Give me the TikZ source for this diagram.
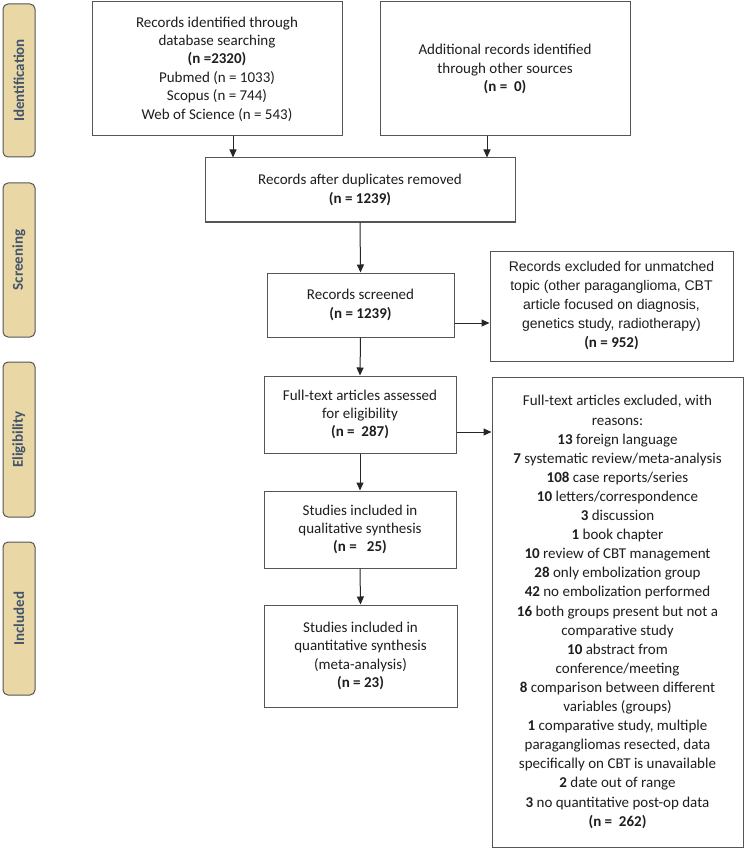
\documentclass[tikz,border=0pt]{standalone}
\usepackage{fontspec}
\setmainfont{Carlito}
\newfontfamily\arialf{Liberation Sans}
\usetikzlibrary{arrows.meta,calc}
\definecolor{tabfill}{RGB}{233,215,166}
\definecolor{tabtext}{RGB}{68,84,106}
\definecolor{boxline}{RGB}{85,85,85}
\definecolor{txt}{RGB}{30,30,30}
\begin{document}
\begin{tikzpicture}[x=1pt,y=-1pt,
  box/.style={draw=boxline,line width=1pt,rectangle,inner sep=0pt,align=center,
    font=\fontsize{15}{18.4}\selectfont,text=txt},
  tab/.style={draw=boxline,fill=tabfill,rounded corners=5pt,line width=1pt,inner sep=0pt,
    rotate=90,minimum height=32pt,text=tabtext,font=\fontsize{15}{18}\selectfont\bfseries},
  arr/.style={-{Triangle[length=8pt,width=7pt]},line width=1pt,draw=black!85}]
\useasboundingbox (0,0) rectangle (745,850);
\fill[white] (0,0) rectangle (745,850);
% phase tabs
\node[tab,minimum width=153pt] (tid) at (19,80.5) {Identification};
\node[tab,minimum width=154pt] (tsc) at (19,260) {Screening};
\node[tab,minimum width=155pt] (tel) at (19,439.5) {Eligibility};
\node[tab,minimum width=153pt] (tin) at (19,618.5) {Included};
% boxes
\node[box,minimum width=250pt,minimum height=134pt] (id1) at (217,69)
  {Records identified through\\database searching\\\textbf{(n =2320)}\\Pubmed (n = 1033)\\Scopus (n = 744)\\Web of Science (n = 543)};
\node[box,minimum width=250pt,minimum height=134pt] (id2) at (505,69)
  {Additional records identified\\through other sources\\\textbf{(n = \ 0)}};
\node[box,minimum width=310pt,minimum height=64pt] (dup) at (360,190)
  {Records after duplicates removed\\\textbf{(n = 1239)}};
\node[box,minimum width=187pt,minimum height=64pt] (scr) at (360.5,305)
  {Records screened\\\textbf{(n = 1239)}};
\node[box,minimum width=243pt,minimum height=110pt,font=\fontsize{14}{19}\selectfont] (ex1) at (611.5,306)
  {\arialf Records excluded for unmatched\\\arialf topic (other paraganglioma, CBT\\\arialf article focused on diagnosis,\\\arialf genetics study, radiotherapy)\\\fontsize{15}{19}\selectfont\textbf{(n = 952)}};
\node[box,minimum width=192pt,minimum height=77pt] (ft) at (360,414.5)
  {Full-text articles assessed\\for eligibility\\\textbf{(n = \ 287)}};
\node[box,minimum width=192pt,minimum height=77pt] (qual) at (360,529.5)
  {Studies included in\\qualitative synthesis\\\textbf{(n = \ \ 25)}};
\node[box,minimum width=193pt,minimum height=102pt] (quant) at (360.5,656)
  {Studies included in\\quantitative synthesis\\(meta-analysis)\\\textbf{(n = 23)}};
\node[box,minimum width=251pt,minimum height=470pt,font=\fontsize{15}{19.1}\selectfont] (ex2) at (617.5,612)
  {Full-text articles excluded, with\\reasons:\\\textbf{13} foreign language\\\textbf{7} systematic review/meta-analysis\\\textbf{108} case reports/series\\\textbf{10} letters/correspondence\\\textbf{3} discussion\\\textbf{1} book chapter\\\textbf{10} review of CBT management\\\textbf{28} only embolization group\\\textbf{42} no embolization performed\\\textbf{16} both groups present but not a\\comparative study\\\textbf{10} abstract from\\conference/meeting\\\textbf{8} comparison between different\\variables (groups)\\\textbf{1} comparative study, multiple\\paragangliomas resected, data\\specifically on CBT is unavailable\\\textbf{2} date out of range\\\textbf{3} no quantitative post-op data\\\textbf{(n = \ 262)}};
% arrow start points
\coordinate (a1) at ($(id1.south)+(16,0)$);
\coordinate (a2) at ($(id2.south)+(-18,0)$);
\coordinate (a3) at ($(scr.east)+(0,18)$);
\coordinate (a4) at ($(ft.east)+(0,17.5)$);
% arrows
\draw[arr] (a1) -- (a1 |- dup.north);
\draw[arr] (a2) -- (a2 |- dup.north);
\draw[arr] (dup.south) -- (scr.north);
\draw[arr] (scr.south) -- (ft.north);
\draw[arr] (ft.south) -- (qual.north);
\draw[arr] (qual.south) -- (quant.north);
\draw[arr] (a3) -- (a3 -| ex1.west);
\draw[arr] (a4) -- (a4 -| ex2.west);
\end{tikzpicture}
\end{document}
